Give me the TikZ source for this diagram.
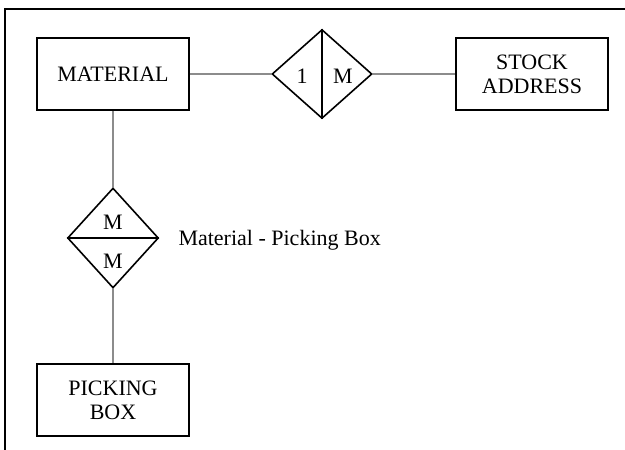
\documentclass[tikz,border=0pt]{standalone}
\usepackage{fontspec}
\setmainfont{Liberation Serif}
\usetikzlibrary{shapes.geometric}
\begin{document}
\begin{tikzpicture}[x=1pt,y=-1pt]
\tikzstyle{every node}=[font=\fontsize{22}{24}\selectfont]
\tikzstyle{entity}=[draw,line width=1.6pt,minimum width=152pt,minimum height=72pt,align=center,inner sep=0pt]
\tikzstyle{relation}=[draw,diamond,line width=1.6pt,inner sep=0pt]
\tikzstyle{link}=[black!45,line width=1.5pt]
\useasboundingbox (0,0) rectangle (625,450);
\draw[line width=1.6pt] (5,450) -- (5,9) -- (625,9);
\node[entity] (material) at (113,74) {MATERIAL};
\node[entity] (stock) at (532,74) {STOCK\\ADDRESS};
\node[entity] (picking) at (113,400) {PICKING\\BOX};
\node[relation,minimum width=100pt,minimum height=89pt] (mat stock) at (322,74) {};
\node[relation,minimum width=91pt,minimum height=100pt] (mat box) at (113,238) {};
\draw[line width=1.6pt] (mat stock.north) -- (mat stock.south);
\draw[line width=1.6pt] (mat box.west) -- (mat box.east);
\node (one) at (302,76) {1};
\node (many) at (343,76) {M};
\node (many top) at (113,222) {M};
\node (many bottom) at (113,261) {M};
\node[anchor=west] (rel label) at (175,240) {Material - Picking Box};
\draw[link] (material) -- (mat stock);
\draw[link] (mat stock) -- (stock);
\draw[link] (material) -- (mat box);
\draw[link] (mat box) -- (picking);
\end{tikzpicture}
\end{document}
